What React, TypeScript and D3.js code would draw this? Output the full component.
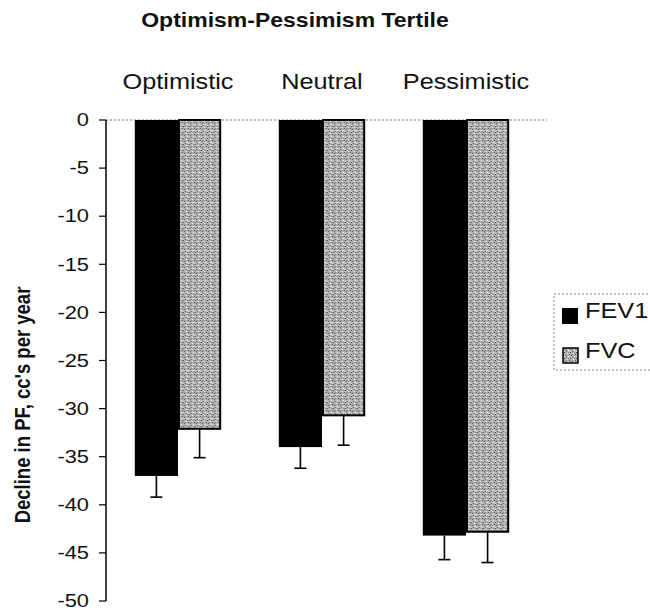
import React from "react";
import * as d3 from "d3";

const title = "Optimism-Pessimism Tertile";
const yLabel = "Decline in PF, cc's per year";
const categories = ["Optimistic", "Neutral", "Pessimistic"];
const seriesNames = ["FEV1", "FVC"];
const fev1Values = [-37.0, -34.0, -43.2];
const fvcValues = [-32.1, -30.7, -42.8];
const fev1Err = [2.2, 2.2, 2.5];
const fvcErr = [3.0, 3.1, 3.2];
const yTicks = [0, -5, -10, -15, -20, -25, -30, -35, -40, -45, -50];

const FONT = "'Liberation Sans', Arial, Helvetica, sans-serif";
const SX = 1.15;

export default function App() {
  const W = 650;
  const H = 610;
  const left = 106;
  const right = 538;
  const top = 120;
  const bottom = 601;

  const y = d3.scaleLinear().domain([-50, 0]).range([bottom, top]);
  const x0 = d3.scaleBand<string>().domain(categories).range([left, right]).paddingInner(0.4).paddingOuter(0.2);
  const x1 = d3.scaleBand<string>().domain(seriesNames).range([0, x0.bandwidth()]);

  const data = categories.map((c, i) => ({
    cat: c,
    vals: [
      { s: "FEV1", v: fev1Values[i], e: fev1Err[i] },
      { s: "FVC", v: fvcValues[i], e: fvcErr[i] },
    ],
  }));

  const capW = 12;

  return (
    <svg width={W} height={H} style={{ position: "absolute", left: 0, top: 0, background: "#fff" }} fontFamily={FONT}>
      <defs>
        <pattern id="stipple" width="6" height="6" patternUnits="userSpaceOnUse">
          <rect width="6" height="6" fill="#b4b4b4" />
          <rect x="0" y="0" width="1" height="1" fill="#3a3a3a" />
          <rect x="3" y="1" width="1" height="1" fill="#f4f4f4" />
          <rect x="1" y="3" width="1" height="1" fill="#555555" />
          <rect x="4" y="4" width="1" height="1" fill="#ffffff" />
          <rect x="2" y="2" width="1" height="1" fill="#7a7a7a" />
          <rect x="5" y="2" width="1" height="1" fill="#4a4a4a" />
          <rect x="0" y="5" width="1" height="1" fill="#e0e0e0" />
          <rect x="4" y="0" width="1" height="1" fill="#8a8a8a" />
          <rect x="2" y="5" width="1" height="1" fill="#666666" />
        </pattern>
      </defs>

      {/* Title */}
      <text
        transform={`translate(295,27) scale(${SX},1)`}
        textAnchor="middle"
        fontSize={20}
        fontWeight="bold"
        fill="#111"
      >
        {title}
      </text>

      {/* Category labels */}
      {categories.map((c) => (
        <text
          key={c}
          transform={`translate(${(x0(c) as number) + x0.bandwidth() / 2},89) scale(${SX},1)`}
          textAnchor="middle"
          fontSize={22}
          fill="#111"
        >
          {c}
        </text>
      ))}

      {/* Top dotted frame line */}
      <line x1={left} x2={547} y1={top} y2={top} stroke="#777" strokeWidth={1} strokeDasharray="2,2" />

      {/* Bars */}
      {data.map((d) => (
        <g key={d.cat} transform={`translate(${x0(d.cat)},0)`}>
          {d.vals.map((b) => {
            const bx = x1(b.s) as number;
            const bw = x1.bandwidth();
            const yTop = y(0);
            const yEnd = y(b.v);
            const cx = bx + bw / 2;
            const yErr = y(b.v - b.e);
            return (
              <g key={b.s}>
                {b.s === "FEV1" ? (
                  <rect x={bx} y={yTop} width={bw} height={yEnd - yTop} fill="#000" />
                ) : (
                  <rect
                    x={bx + 1}
                    y={yTop}
                    width={bw - 2}
                    height={yEnd - yTop}
                    fill="url(#stipple)"
                    stroke="#000"
                    strokeWidth={2}
                  />
                )}
                <line x1={cx} x2={cx} y1={yEnd} y2={yErr} stroke="#000" strokeWidth={1.6} />
                <line x1={cx - capW / 2} x2={cx + capW / 2} y1={yErr} y2={yErr} stroke="#000" strokeWidth={1.6} />
              </g>
            );
          })}
        </g>
      ))}

      {/* Y axis */}
      <line x1={left} x2={left} y1={top} y2={bottom} stroke="#000" strokeWidth={1.5} />
      {yTicks.map((t) => (
        <g key={t}>
          <line x1={left - 7} x2={left} y1={y(t)} y2={y(t)} stroke="#000" strokeWidth={1.2} />
          <text
            transform={`translate(89,${y(t)}) scale(${SX},1)`}
            textAnchor="end"
            dy="0.33em"
            fontSize={19}
            fill="#111"
          >
            {String(t)}
          </text>
        </g>
      ))}

      {/* Y label */}
      <text
        transform={`translate(30,405) scale(1.2,1) rotate(-90)`}
        textAnchor="middle"
        fontSize={18.5}
        fontWeight="bold"
        fill="#111"
      >
        {yLabel}
      </text>

      {/* Legend */}
      <rect x={554} y={294} width={110} height={76} fill="none" stroke="#888" strokeWidth={1} strokeDasharray="2,2" />
      {seriesNames.map((s, i) => (
        <g key={s} transform={`translate(0,${i * 40})`}>
          {s === "FEV1" ? (
            <rect x={562} y={308} width={16} height={16} fill="#000" />
          ) : (
            <rect x={563} y={308} width={15} height={15} fill="url(#stipple)" stroke="#000" strokeWidth={1.5} />
          )}
          <text transform={`translate(585,318) scale(${SX},1)`} fontSize={22} fill="#111">
            {s}
          </text>
        </g>
      ))}
    </svg>
  );
}
